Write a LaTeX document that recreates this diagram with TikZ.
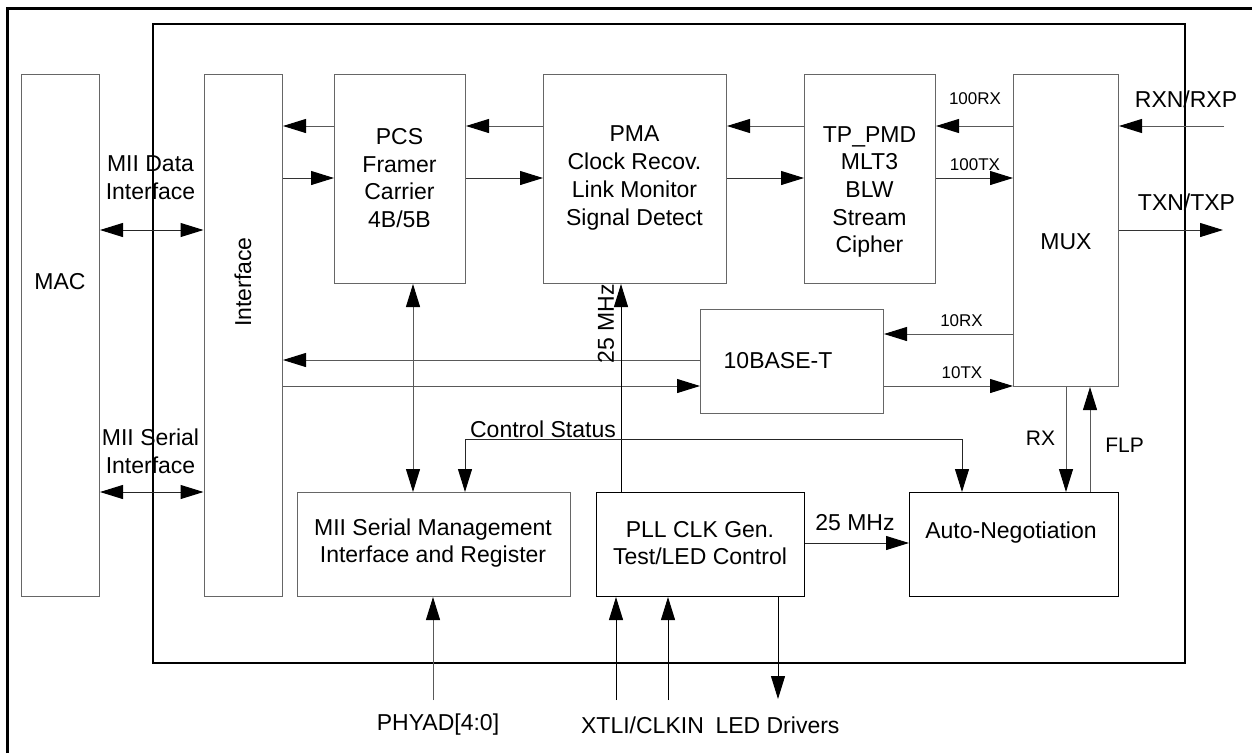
\documentclass[tikz,border=0pt]{standalone}
\usepackage{fontspec}
\setmainfont{Liberation Sans}
\usetikzlibrary{arrows.meta}
\begin{document}
\begin{tikzpicture}[x=1pt,y=-1pt,
  box/.style={draw=black!60,line width=1pt,inner sep=0pt,anchor=north west},
  conn/.style={draw=black!65,line width=1pt},
  arr/.style={conn,-{Triangle[length=23pt,width=14pt,color=black]}},
  darr/.style={conn,{Triangle[length=23pt,width=14pt,color=black]}-{Triangle[length=23pt,width=14pt,color=black]}},
  txt/.style={font=\fontsize{23}{27.7}\selectfont,align=center,inner sep=0pt},
  small/.style={font=\fontsize{17}{20}\selectfont,inner sep=0pt},
  mid/.style={font=\fontsize{21}{25}\selectfont,inner sep=0pt}]
\useasboundingbox (0,0) rectangle (1252,753);
\fill[white] (0,0) rectangle (1252,753);
% outer frame (only top and left visible)
\draw[line width=2.3pt] (7.5,753) -- (7.5,8.5) -- (1252,8.5);
% chip boundary
\node[draw,line width=2pt,inner sep=0pt,anchor=north west,minimum width=1032pt,minimum height=639pt] (chip) at (152,23) {};
% blocks
\node[box,minimum width=78.5pt,minimum height=522pt] (mac) at (20.5,74) {};
\node[box,minimum width=78.5pt,minimum height=522pt] (iface) at (203.5,74) {};
\node[box,minimum width=131pt,minimum height=209pt] (pcs) at (334,74) {};
\node[box,minimum width=183pt,minimum height=209pt] (pma) at (543,74) {};
\node[box,minimum width=131pt,minimum height=209pt] (pmd) at (804,74) {};
\node[box,minimum width=105pt,minimum height=312pt] (mux) at (1013,74) {};
\node[box,minimum width=183pt,minimum height=104pt] (tbt) at (700,309) {};
\node[box,minimum width=273pt,minimum height=104pt] (mgmt) at (297,492) {};
\node[box,draw=black,minimum width=208pt,minimum height=104pt] (pll) at (596,492) {};
\node[box,draw=black,minimum width=209pt,minimum height=104pt] (an) at (909,492) {};
% block texts
\node[txt] (macT) at (60,282) {MAC};
\node[txt,rotate=90] (ifaceT) at (243,282) {Interface};
\node[txt] (pcsT) at (399.5,178) {PCS\\Framer\\Carrier\\4B/5B};
\node[txt] (pmaT) at (634.5,178) {PMA\\Clock Recov.\\Link Monitor\\Signal Detect};
\node[txt] (pmdT) at (869.5,192) {TP\_PMD\\MLT3\\BLW\\Stream\\Cipher};
\node[txt] (muxT) at (1066,242) {MUX};
\node[txt] (tbtT) at (778,361) {10BASE-T};
\node[txt] (mgmtT) at (433,543) {MII Serial Management\\Interface and Register};
\node[txt] (pllT) at (700,543) {PLL CLK Gen.\\Test/LED Control};
\node[txt] (anT) at (1011,533) {Auto-Negotiation};
% helper coordinates
\coordinate (r126) at (0,126);
\coordinate (r178) at (0,178);
\coordinate (r230) at (0,230);
\coordinate (r334) at (0,334);
\coordinate (r360) at (0,360);
\coordinate (r386) at (0,386);
\coordinate (r492) at (0,492);
\coordinate (r543) at (0,543);
\coordinate (x413) at (413,0);
\coordinate (x621) at (621,0);
\coordinate (x1066) at (1066,0);
\coordinate (x1090) at (1090,0);
\coordinate (rxin) at (1224,126);
\coordinate (txout) at (1223,230);
\coordinate (cs1) at (465,439);
\coordinate (cs2) at (962,439);
\coordinate (phyad) at (433,700);
\coordinate (xtli) at (616,700);
\coordinate (clkin) at (668,700);
\coordinate (led) at (778,699);
% receive row
\draw[arr] (pcs.west |- r126) -- (iface.east |- r126);
\draw[arr] (pma.west |- r126) -- (pcs.east |- r126);
\draw[arr] (pmd.west |- r126) -- (pma.east |- r126);
\draw[arr] (mux.west |- r126) -- (pmd.east |- r126);
\draw[arr] (rxin) -- (mux.east |- rxin);
% transmit row
\draw[arr,draw=black!80] (iface.east |- r178) -- (pcs.west |- r178);
\draw[arr,draw=black!80] (pcs.east |- r178) -- (pma.west |- r178);
\draw[arr,draw=black!80] (pma.east |- r178) -- (pmd.west |- r178);
\draw[arr,draw=black!80] (pmd.east |- r178) -- (mux.west |- r178);
\draw[arr,draw=black!80] (mux.east |- txout) -- (txout);
% MII
\draw[darr,draw=black!85] (mac.east |- r230) -- (iface.west |- r230);
\draw[darr,draw=black!85] (mac.east |- r492) -- (iface.west |- r492);
% 10BASE-T
\draw[arr] (mux.west |- r334) -- (tbt.east |- r334);
\draw[arr] (tbt.east |- r386) -- (mux.west |- r386);
\draw[arr] (tbt.west |- r360) -- (iface.east |- r360);
\draw[arr] (iface.east |- r386) -- (tbt.west |- r386);
% vertical links
\draw[darr] (pcs.south -| x413) -- (mgmt.north -| x413);
\draw[arr,draw=black] (pll.north -| x621) -- (pma.south -| x621);
\draw[darr,draw=black!85] (mgmt.north -| cs1) -- (cs1) -- (cs2) -- (an.north -| cs2);
\draw[arr,draw=black!85] (pll.east |- r543) -- (an.west |- r543);
\draw[arr] (mux.south -| x1066) -- (an.north -| x1066);
\draw[arr] (an.north -| x1090) -- (mux.south -| x1090);
\draw[arr] (phyad) -- (mgmt.south -| phyad);
\draw[arr,draw=black] (xtli) -- (pll.south -| xtli);
\draw[arr,draw=black] (clkin) -- (pll.south -| clkin);
\draw[arr,draw=black] (pll.south -| led) -- (led);
% labels
\node[txt] (miiD) at (150.5,177.5) {MII Data\\Interface};
\node[txt] (miiS) at (150.5,451) {MII Serial\\Interface};
\node[small] (l100rx) at (975,99) {100RX};
\node[small] (l100tx) at (975,165) {100TX};
\node[small] (l10rx) at (961.5,321) {10RX};
\node[small] (l10tx) at (962,373) {10TX};
\node[txt] (lrx) at (1186,99) {RXN/RXP};
\node[txt] (ltx) at (1186.5,202) {TXN/TXP};
\node[txt,rotate=90] (l25v) at (606,324) {25 MHz};
\node[txt] (lcs) at (543,429) {Control Status};
\node[txt] (l25h) at (855,523) {25 MHz};
\node[mid] (lRX) at (1040.5,438) {RX};
\node[mid] (lFLP) at (1124.5,445) {FLP};
\node[txt] (lphy) at (438,725) {PHYAD[4:0]};
\node[txt] (lxt) at (642.5,725) {XTLI/CLKIN};
\node[txt] (lled) at (777.5,725) {LED Drivers};
\end{tikzpicture}
\end{document}
